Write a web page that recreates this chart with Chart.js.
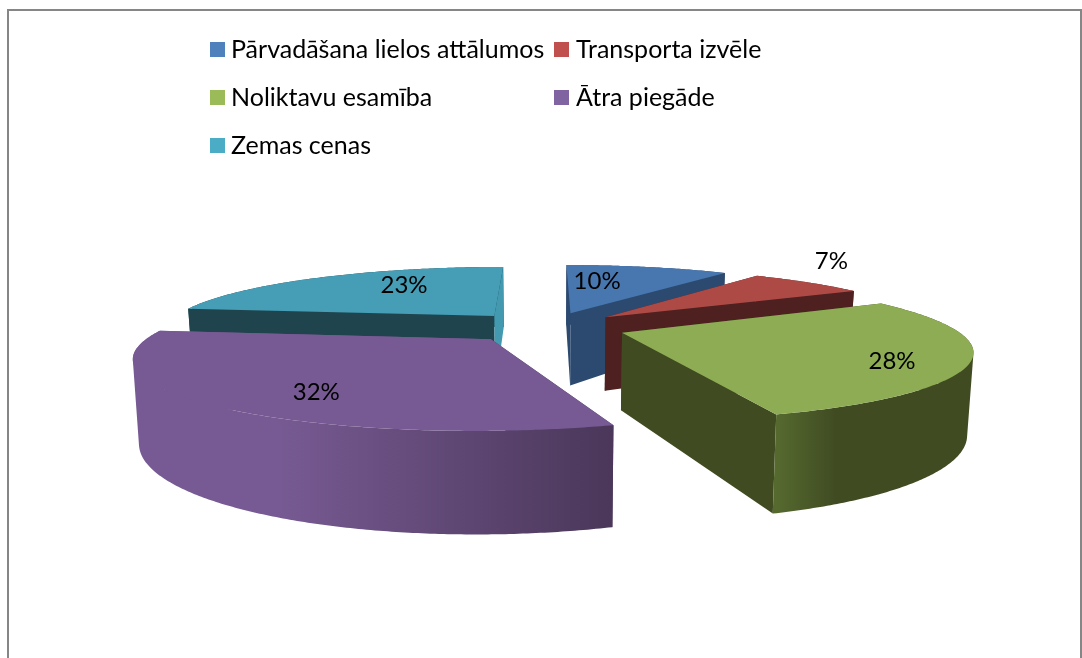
<!DOCTYPE html>
<html>
<head>
<meta charset="utf-8">
<style>
  html, body { margin: 0; padding: 0; background: #fff; overflow: hidden; }
  canvas { display: block; }
</style>
<script src="https://cdn.jsdelivr.net/npm/chart.js@4"></script>
</head>
<body>
<canvas id="chart" width="1082" height="658"></canvas>
<script>
const categories = ['Pārvadāšana lielos attālumos', 'Transporta izvēle', 'Noliktavu esamība', 'Ātra piegāde', 'Zemas cenas'];
const shares = [10, 7, 28, 32, 23];

const legendColors = ['#4F81BD', '#C0504D', '#9BBB59', '#8064A2', '#4BACC6'];
const topColors = ['#4877B0', '#AD4A46', '#8DAC54', '#775A93', '#459DB6'];
const startWallColors = ['#2C4A70', '#4E2020', '#404B22', '#4A3759', '#1F444D'];
const endWallColors = ['#2C4A70', '#4E2020', '#404B22', '#775A93', '#4299B0'];
const rimColors = [
  ['#2C4A70', '#2C4A70', '#2C4A70'],
  ['#4E2020', '#4E2020', '#4E2020'],
  ['#566A2F', '#404B22', '#404B22'],
  ['#775A93', '#775A93', '#4A3759'],
  ['#1F444D', '#1F444D', '#1F444D']
];

// where each % label sits: fraction through the slice, fraction of the radius
const labelSpots = [[0.3, 0.63], [0.12, 1.51], [0.565, 0.817], [0.44, 0.76], [0.636, 0.676]];
// small sideways corrections per slice, the original was not a perfect explode
const sliceNudge = [3.5, 5, 4, -1, 0];

// fake 3D view, fitted by eye against the picture
const view = {
  shiftX: 3, shiftY: -2, zoom: 1.006,
  explode: 0.236,
  tilt: 0.195,
  perspective: 0.00068,
  depth: 76,
  taper: 0.015
};

const LABEL_FONT = '24px Lato, sans-serif';
const LEGEND_FONT = '25px Lato, sans-serif';

function projector(arc, i) {
  const cx = arc.x + view.shiftX + sliceNudge[i];
  const cy = arc.y + view.shiftY;
  const radius = arc.outerRadius * view.zoom;
  const start = arc.startAngle + Math.PI / 2;
  const end = arc.endAngle + Math.PI / 2;
  const mid = (start + end) / 2;
  const ox = Math.sin(mid) * view.explode * radius;
  const oy = -Math.cos(mid) * view.explode * radius;

  // angle is clockwise from 12 o'clock, r is in radii, z is 0 on top and 1 at the bottom
  const at = (angle, r, z) => {
    const u = ox + Math.sin(angle) * r * radius;
    const f = oy - Math.cos(angle) * r * radius;
    const s = 1 / (1 - view.perspective * f);
    return {
      x: cx + u * s * (1 - view.taper * z),
      y: cy + view.tilt * f * s + view.depth * s * z
    };
  };
  return { at, start, end };
}

function fillShape(ctx, points, fill) {
  ctx.beginPath();
  points.forEach((p, i) => (i ? ctx.lineTo(p.x, p.y) : ctx.moveTo(p.x, p.y)));
  ctx.closePath();
  ctx.fillStyle = fill;
  ctx.fill();
}

function rimAngles(start, end) {
  const steps = Math.max(2, Math.ceil((end - start) / 0.01));
  const angles = [];
  for (let i = 0; i <= steps; i++) angles.push(start + (end - start) * i / steps);
  return angles;
}

// outer wall as one path of quads, so the silhouette at the far left/right stays filled
function fillWall(ctx, at, angles, fill) {
  ctx.beginPath();
  for (let k = 0; k < angles.length - 1; k++) {
    let q = [at(angles[k], 1, 0), at(angles[k + 1], 1, 0), at(angles[k + 1], 1, 1), at(angles[k], 1, 1)];
    const area = q.reduce((sum, p, n) => {
      const o = q[(n + 1) % 4];
      return sum + p.x * o.y - o.x * p.y;
    }, 0);
    if (area < 0) q = q.reverse();
    q.forEach((p, n) => (n ? ctx.lineTo(p.x, p.y) : ctx.moveTo(p.x, p.y)));
    ctx.closePath();
  }
  ctx.fillStyle = fill;
  ctx.fill();
}

function drawSlice(ctx, arc, i) {
  const { at, start, end } = projector(arc, i);
  const angles = rimAngles(start, end);
  const front = angles.filter(a => Math.cos(a) < 0.15);
  const back = angles.filter(a => Math.cos(a) >= 0.15);

  const xs = (front.length ? front : angles).map(a => at(a, 1, 0).x);
  const grad = ctx.createLinearGradient(Math.min(...xs), 0, Math.max(...xs), 0);
  grad.addColorStop(0, rimColors[i][0]);
  grad.addColorStop(0.3, rimColors[i][1]);
  grad.addColorStop(1, rimColors[i][2]);

  // far part of the wall, then the cut faces, then the near wall and the top
  if (back.length > 1) fillWall(ctx, at, back, grad);
  [[start, startWallColors[i]], [end, endWallColors[i]]].forEach(([a, color]) => {
    fillShape(ctx, [at(a, 0, 0), at(a, 1, 0), at(a, 1, 1), at(a, 0, 1)], color);
  });
  if (front.length > 1) fillWall(ctx, at, front, grad);

  fillShape(ctx, [at(start, 0, 0)].concat(angles.map(a => at(a, 1, 0))), topColors[i]);
}

const pie3d = {
  id: 'pie3d',
  beforeDraw(chart) {
    const ctx = chart.ctx;
    ctx.save();
    ctx.fillStyle = '#fff';
    ctx.fillRect(0, 0, chart.width, chart.height);
    ctx.strokeStyle = '#868686';
    ctx.lineWidth = 2;
    ctx.beginPath();
    ctx.moveTo(8, chart.height);
    ctx.lineTo(8, 10);
    ctx.lineTo(1081, 10);
    ctx.lineTo(1081, chart.height);
    ctx.stroke();
    ctx.restore();
  },
  // paint the arcs ourselves and skip the flat ones
  beforeDatasetsDraw(chart) {
    const arcs = chart.getDatasetMeta(0).data;
    const ctx = chart.ctx;
    ctx.save();
    // back to front
    [4, 0, 1, 2, 3].forEach(i => drawSlice(ctx, arcs[i], i));
    ctx.restore();
    return false;
  },
  afterDraw(chart) {
    const arcs = chart.getDatasetMeta(0).data;
    const ctx = chart.ctx;
    ctx.save();
    ctx.fillStyle = '#000';
    ctx.textBaseline = 'middle';

    // % labels, these were fitted without the nudge
    ctx.font = LABEL_FONT;
    ctx.textAlign = 'center';
    arcs.forEach((arc, i) => {
      const { at, start, end } = projector(arc, i);
      const p = at(start + (end - start) * labelSpots[i][0], labelSpots[i][1], 0);
      ctx.fillText(shares[i] + '%', p.x - sliceNudge[i], p.y);
    });

    // legend, two columns filled row by row
    ctx.font = LEGEND_FONT;
    ctx.textAlign = 'left';
    categories.forEach((name, i) => {
      const x = i % 2 ? 554 : 210;
      const y = 42 + Math.floor(i / 2) * 48;
      ctx.fillStyle = legendColors[i];
      ctx.fillRect(x, y, 15, 15);
      ctx.fillStyle = '#000';
      ctx.fillText(name, x + (i % 2 ? 22 : 21), y + 8);
    });
    ctx.restore();
  }
};

new Chart(document.getElementById('chart'), {
  type: 'pie',
  data: {
    labels: categories,
    datasets: [{ data: shares, backgroundColor: topColors, borderWidth: 0 }]
  },
  options: {
    responsive: false,
    animation: false,
    plugins: {
      legend: { display: false },
      tooltip: { enabled: false }
    }
  },
  plugins: [pie3d]
});
</script>
</body>
</html>
